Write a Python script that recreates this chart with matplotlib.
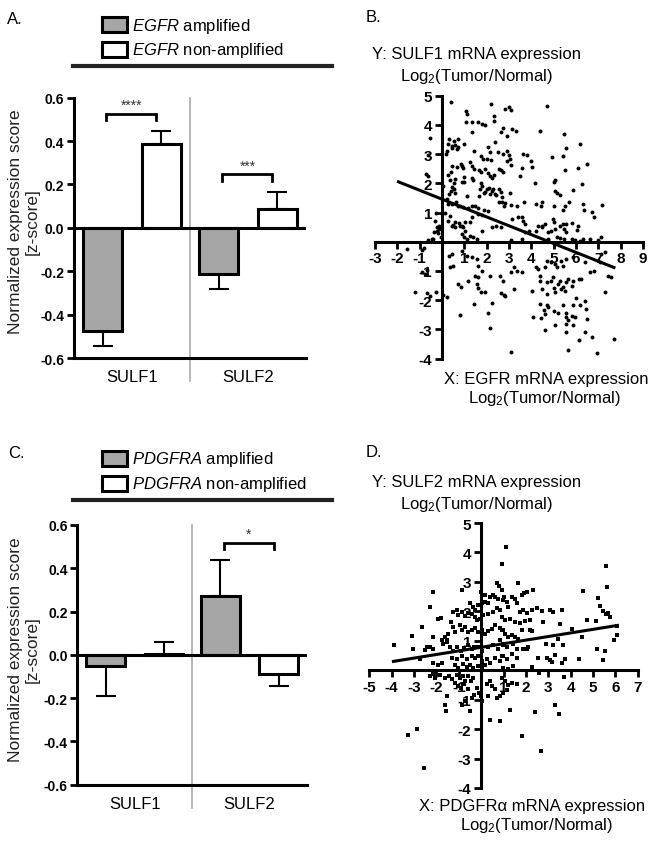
import numpy as np
import matplotlib
matplotlib.use('Agg')
import matplotlib.pyplot as plt
from matplotlib.patches import Rectangle
from matplotlib.lines import Line2D

plt.rcParams['font.family'] = ['Liberation Sans', 'DejaVu Sans']
plt.rcParams['mathtext.fontset'] = 'custom'
plt.rcParams['mathtext.rm'] = 'Liberation Sans'
plt.rcParams['mathtext.it'] = 'Liberation Sans:italic'

# ---------------- data ----------------
genes = ['SULF1', 'SULF2']
egfr_amp = [-0.475, -0.214]
egfr_amp_err = [0.070, 0.066]
egfr_non = [0.386, 0.089]
egfr_non_err = [0.062, 0.077]
egfr_sig = ['****', '***']

pdg_amp = [-0.053, 0.272]
pdg_amp_err = [0.136, 0.165]
pdg_non = [0.006, -0.088]
pdg_non_err = [0.054, 0.054]
pdg_sig = ['', '*']

bar_yticks = [-0.6, -0.4, -0.2, 0.0, 0.2, 0.4, 0.6]
bar_yticklabels = ['-0.6', '-0.4', '-0.2', '0.0', '0.2', '0.4', '0.6']

# Panel B: EGFR (x) vs SULF1 (y), log2 tumor/normal
b_x = [0.40, 1.06, 1.10, 2.19, 2.32, 2.34, 2.82, 1.06, 1.33, 1.62, 1.77, 1.92,
       1.33, 2.74, 2.64, 2.37, -0.54, 0.31, 0.55, 0.73, 0.25, 0.43, 0.58, 0.46,
       0.66, 0.73, 1.00, 1.45, 0.21, 0.16, 2.07, 2.15, 2.52, 2.74, 2.89, -0.64,
       1.74, 1.85, 2.00, 2.19, 0.85, 0.91, 0.95, 0.66, 1.25, 1.33, 1.45, 0.43,
       0.40, 0.25, 0.36, 1.65, 1.74, 1.92, 2.07, 2.15, 2.22, 2.34, 2.55, 2.64,
       2.74, -0.73, -0.61, 0.58, 0.55, 1.00, 0.91, 1.33, 1.40, 1.74, 1.80, 1.70,
       1.65, 1.86, 2.00, 1.92, 2.10, 2.15, 2.22, 2.30, 2.37, 2.44, 2.55, 2.64,
       2.67, 2.70, 2.55, 2.79, 0.06, 0.43, 0.52, 0.58, 0.40, 0.31, 0.97, 1.10,
       0.22, 0.25, 0.46, 0.61, 0.70, 0.82, 0.95, 1.15, 1.33, 1.48, 1.62, 1.89,
       2.07, 1.59, 1.77, 0.13, 0.36, 0.28, 0.58, 0.48, 0.76, 0.91, 1.03, 1.33,
       1.25, -0.25, -0.30, -0.15, -0.20, -0.05, -0.40,
       3.00, 3.09, 4.72, 3.14, 3.31, 2.89, 4.38, 5.47, 5.54, 6.18, 3.64, 3.79,
       3.00, 3.04, 2.89, 3.11, 4.00, 4.04, 3.59, 4.93, 5.42, 5.50, 6.10, 6.48,
       3.49, 4.16, 5.02, 5.05, 6.27, 5.07, 5.17, 5.27, 5.87, 3.04, 3.68, 4.23,
       4.43, 4.48, 2.82, 3.11, 3.38, 5.02, 5.42, 5.50, 5.68, 6.32, 6.36, 6.72,
       6.81, 7.17, 3.14, 3.41, 3.59, 3.63, 3.71, 4.63, 4.98, 5.02, 5.42, 5.57,
       5.83, 4.31, 4.46,
       4.23, 4.46, 4.75, 4.90, 5.05, 5.28, 5.47, 5.57, 6.05, 6.10, 5.13, 5.28,
       5.47, 5.80, 5.95, 6.17, 6.32, 6.62, 6.97, 7.14, 3.56, 3.11, 4.75, 3.71, 3.89,
       3.23, 3.11, 3.34, 3.56, 4.23, 4.31, 4.60, 4.68, 4.88, 5.05, 5.17, 5.35,
       5.42, 5.57, 5.87, 6.39, 6.62, 6.81, 7.07, 7.14, 7.29, 7.44, 7.56, 2.82,
       3.23, 4.04, 4.38, 4.38, 4.46, 4.68, 4.72, 4.90, 4.98, 5.05, 5.02, 5.20,
       5.28, 5.35, 5.42, 5.50, 5.57, 5.65, 5.80, 5.87, 6.12, 6.24, 7.29, 4.38,
       4.68, 4.75, 4.58, 4.60, 5.02, 4.08, 4.43, 5.20, 5.42, 5.57, 5.54, 5.80,
       5.95, 5.87, 6.02, 6.17, 6.39, 6.47, 5.57, 5.62, 5.87, 6.51, 5.08, 4.60,
       5.57, 6.39, 6.12, 6.72, 7.70, 5.62, 6.92, 3.11,
       -0.34, -0.24, -0.24, -0.13, -0.64, -0.46, 0.43, 0.58, 0.80, 0.95, 1.03, 0.91,
       1.00, 1.10, 1.25, 1.40, 1.55, 1.80, 2.22, 2.44, 2.64, -0.91, -0.79, -1.58,
       0.31, 0.43, 0.51, 0.36, 0.91, 1.10, 1.33, 1.55, 1.62, 1.77, -0.91, -0.76,
       -0.69, 1.48, 1.59, 1.18, 2.15, 2.59, 2.74, 0.70, 0.85, 1.55, 1.62, 1.74,
       1.92, 2.64, 2.79, -1.21, -0.69, -0.54, -0.28, 0.06, 0.21, 1.45, 2.25, 2.07,
       0.80, 2.15]
b_y = [4.77, 4.49, 4.37, 4.71, 4.29, 4.14, 4.54, 4.09, 4.09, 4.09, 4.03, 4.00,
       3.77, 3.88, 3.77, 3.40, 3.54, 3.52, 3.46, 3.52, 3.34, 3.29, 3.31, 3.20,
       3.17, 3.26, 3.34, 3.12, 3.12, 3.00, 3.23, 3.06, 3.06, 3.00, 3.12, 2.97,
       2.95, 2.83, 2.83, 2.80, 2.66, 2.58, 2.51, 2.55, 2.74, 2.58, 2.49, 2.58,
       2.40, 2.28, 2.12, 2.47, 2.40, 2.49, 2.35, 2.24, 2.17, 2.28, 2.49, 2.44,
       2.40, 2.32, 2.24, 2.15, 2.01, 2.20, 2.05, 2.17, 2.12, 2.01, 1.92, 1.80,
       1.58, 1.67, 1.80, 1.69, 1.83, 1.63, 1.75, 1.80, 1.63, 1.60, 1.80, 1.71,
       1.52, 1.35, 1.35, 1.21, 1.92, 1.86, 1.80, 1.67, 1.75, 1.63, 2.03, 1.58,
       1.46, 1.29, 1.29, 1.35, 1.23, 1.21, 1.18, 1.14, 1.21, 1.23, 1.14, 1.10,
       1.06, 0.96, 0.91, 1.00, 0.89, 0.72, 0.66, 0.57, 0.64, 0.55, 0.66, 0.83,
       0.66, 1.00, 0.70, 0.45, 0.30, 0.15, 0.10,
       4.63, 4.52, 4.66, 3.86, 3.80, 3.63, 3.78, 3.69, 3.21, 3.34, 3.00, 2.97,
       2.97, 2.83, 2.77, 2.63, 2.77, 2.55, 2.51, 2.89, 2.95, 2.47, 2.52, 2.66,
       2.24, 2.01, 2.05, 2.12, 1.97, 1.75, 1.67, 1.60, 1.78, 1.67, 1.37, 1.29,
       1.21, 1.35, 1.32, 1.26, 1.21, 1.23, 1.10, 1.23, 1.35, 1.29, 1.10, 1.03,
       0.83, 1.26, 0.78, 0.83, 0.83, 0.72, 0.61, 0.61, 0.78, 0.68, 0.61, 0.61,
       0.64, 0.53, 0.49,
       0.38, 0.55, 0.32, 0.35, 0.43, 0.55, 0.43, 0.32, 0.40, 0.55, 0.15, 0.13,
       0.09, 0.09, 0.06, 0.04, 0.09, 0.09, 0.06, 0.15, 0.09, 0.06, 0.09, 0.32, 0.38,
       -0.86, -1.05, -0.99, -1.05, -0.86, -0.94, -0.88, -0.67, -0.70, -0.76, -0.86, -0.65,
       -0.82, -0.59, -0.54, -0.70, -1.05, -0.99, -0.70, -0.42, -0.36, -1.16, -1.22, -1.85,
       -1.62, -1.70, -1.16, -1.36, -1.62, -1.39, -1.79, -1.33, -1.22, -1.73, -1.59, -1.45,
       -1.33, -1.62, -1.56, -1.68, -1.39, -1.28, -1.51, -1.33, -1.28, -1.28, -1.73, -2.13,
       -2.16, -2.23, -2.34, -2.48, -2.38, -2.59, -2.61, -2.45, -2.16, -2.45, -2.59, -2.53,
       -2.59, -2.16, -1.93, -2.16, -2.02, -2.30, -2.82, -2.68, -2.84, -2.65, -2.84, -3.02,
       -3.10, -3.10, -3.37, -3.28, -3.33, -3.71, -3.82, -3.79,
       0.32, 0.38, 0.51, 0.55, 0.06, 0.09, 0.55, 0.51, 0.55, 0.49, 0.38, 0.26,
       0.15, 0.09, 0.21, 0.15, 0.09, 0.38, 0.49, 0.55, 0.51, -0.28, -0.22, -0.25,
       -0.48, -0.42, -0.83, -0.86, -0.31, -0.48, -0.54, -0.59, -0.82, -0.99, -1.05, -1.11,
       -0.97, -1.16, -1.22, -1.33, -1.16, -1.16, -1.36, -1.45, -1.54, -1.45, -1.59, -1.73,
       -1.73, -1.77, -1.82, -1.73, -1.77, -1.85, -1.73, -1.82, -1.88, -2.13, -2.11, -2.45,
       -2.50, -2.96]
b_fit_x = [-1.95, 7.70]
b_slope = -0.304
b_intercept = 1.457

# Panel D: PDGFRA (x) vs SULF2 (y), log2 tumor/normal
d_x = [0.92, 0.70, 0.80, -0.84, -2.14, -2.28, 0.00, 0.17, 0.40, 0.55, 0.62, 0.77,
       0.99, -0.50, -0.35, -0.27, -0.12, 0.03, 0.17, 0.32, -1.24, -1.09, -1.02, -0.87,
       -0.72, -0.57, -0.42, -0.27, -0.20, -0.05, 0.10, 0.32, 0.55, 0.70, 0.85, -1.91,
       -1.79, -2.66, -1.35, -1.24, -1.17, -1.47, -1.61, -1.76, -1.54, -0.94, -0.84, -0.72,
       -0.57, -0.42, -0.27, -0.12, 0.03, 0.17, 0.32, 0.47, 0.62, 0.85, 0.99, -3.88,
       -3.08, -3.03, -2.51, -2.43, -2.28, -2.14, -2.14, -1.69, -1.54, -1.39, -1.24, -1.09,
       -0.90, -0.75, -0.57, -0.42, -0.30, -0.12, 0.03, 0.32, 0.55, 0.77, 0.99, -1.32,
       -1.09, -0.87, -0.65, -0.42, -0.27, -0.12, 0.03, 0.25, 0.40, 0.62, 0.85, 0.99,
       -2.14, -1.91, -1.76, -1.17, -1.02, -0.79, -0.65, -0.50, -0.35, -0.12, 0.03, 0.17,
       -2.73, -2.28, -2.14, -2.06, -1.84, -1.61, -1.44, -1.32, -1.09, -0.94, -0.79, -0.72,
       -0.60, -1.17, -1.05, -0.90, -0.75, -0.57, -0.45, -0.35, -0.20, -0.09, -0.30, -0.42,
       0.00, 0.06, 0.25, 0.40, 0.47, 0.62, 0.70, 0.85, 0.32, -1.54, -1.61, -1.58,
       -0.50, -0.87, -0.72, 0.40, 0.85, -2.88, -3.28, -2.54,
       1.11, 5.58, 5.61, 1.66, 2.04, 1.92, 1.81, 2.33, 4.57, 1.51, 1.37,
       1.59, 5.24, 5.32, 5.43, 5.58, 5.69, 5.76, 0.92, 1.03, 1.14, 1.22, 1.74,
       1.89, 2.04, 2.26, 2.48, 2.71, 3.08, 3.20, 3.60, 0.92, 1.07, 1.29, 1.51,
       1.74, 1.96, 2.19, 2.75, 3.53, 4.72, 5.14, 4.05, 4.49, 6.06, 6.09, 5.94,
       0.92, 1.07, 1.22, 1.37, 1.51, 1.66, 1.81, 2.19, 2.26, 0.84, 0.99, 1.17,
       1.41, 1.59, 1.86, 2.04, 2.11, 2.90, 3.23, 3.45, 3.68, 5.17, 5.54, 0.92,
       1.14, 1.37, 1.59, 2.26, 2.56, 2.93, 3.08, 3.15, 3.30, 3.60, 3.75, 4.39,
       5.46, 0.96, 1.22, 1.44, 2.60, 3.71, 0.92, 1.07, 1.22, 1.37, 1.59, 1.14,
       0.99, 3.30, 3.50, 2.41, 1.29, 1.81, 2.66]
d_y = [3.62, 2.96, 2.87, 2.71, 2.64, 2.15, 2.64, 2.56, 2.50, 2.56, 2.48, 2.41,
       2.38, 2.27, 2.15, 2.04, 2.21, 2.27, 2.33, 2.27, 1.98, 2.04, 1.87, 1.98,
       1.83, 1.95, 1.90, 1.81, 1.70, 1.75, 1.87, 1.90, 1.98, 2.10, 2.04, 1.75,
       1.79, 1.47, 1.64, 1.47, 1.29, 1.24, 1.12, 1.01, 0.95, 1.52, 1.37, 1.47,
       1.29, 1.37, 1.44, 1.29, 1.37, 1.24, 1.33, 1.41, 1.52, 1.44, 1.35, 0.85,
       1.15, 0.72, 0.69, 0.78, 0.80, 0.72, 1.12, 0.89, 1.01, 0.78, 0.66, 0.78,
       0.66, 0.76, 0.84, 0.72, 0.80, 0.78, 0.66, 0.78, 0.84, 0.72, 0.84, 0.43,
       0.38, 0.49, 0.38, 0.49, 0.43, 0.49, 0.32, 0.38, 0.26, 0.43, 0.32, 0.49,
       0.26, 0.18, 0.23, 0.18, 0.09, 0.21, 0.11, 0.18, 0.09, 0.15, 0.09, 0.18,
       0.38, -0.20, -0.12, -0.28, -0.16, -0.25, -0.20, -0.31, -0.16, -0.25, -0.20, -0.37,
       -0.20, -0.43, -0.54, -0.60, -0.48, -0.65, -0.37, -0.25, -0.60, -0.77, -0.83, -0.94,
       -0.88, -1.06, -0.48, -0.37, -0.54, -0.65, -0.94, -0.88, -0.88, -0.88, -1.17, -1.40,
       -1.40, -1.17, -1.06, -1.69, -1.74, -2.00, -2.20, -3.33,
       4.20, 3.55, 2.82, 2.96, 2.67, 2.61, 2.56, 2.73, 2.70, 2.41, 2.48,
       2.27, 2.44, 2.18, 2.02, 1.90, 1.95, 1.81, 2.73, 2.48, 2.33, 2.15, 1.98,
       2.04, 1.93, 2.04, 2.10, 2.01, 2.04, 1.98, 2.04, 1.81, 1.70, 1.75, 1.64,
       1.60, 1.67, 1.70, 1.64, 1.58, 1.70, 1.67, 1.41, 1.12, 1.49, 1.20, 1.03,
       1.35, 1.24, 1.12, 1.18, 1.12, 1.07, 1.35, 1.37, 1.33, 1.01, 0.89, 0.78,
       0.89, 0.72, 0.72, 0.72, 0.78, 0.89, 0.84, 1.07, 0.87, 0.72, 0.66, 0.49,
       0.38, 0.55, 0.43, 0.11, 0.41, 0.43, 0.34, 0.29, 0.53, 0.23, 0.38, 0.38,
       0.34, 0.09, 0.03, 0.15, -0.08, -0.23, -0.25, -0.37, -0.51, -0.43, -0.48, -0.66,
       -0.77, -1.17, -1.49, -1.42, -1.35, -2.23, -2.76]
d_fit_x = [-3.92, 6.09]
d_slope = 0.122
d_intercept = 0.778

GRAY = '#a6a6a6'
FS = 12

# ---------------- figure ----------------
W, H = 654, 853
fig = plt.figure(figsize=(W / 100, H / 100), dpi=100)


def fxp(px):
    return px / W


def fyp(py):
    return 1 - py / H


def axes_px(l, t, r, b):
    return fig.add_axes([fxp(l), fyp(b), fxp(r) - fxp(l), fyp(t) - fyp(b)])


def bar_panel(ax, amp, amp_err, non, non_err, sig, sig_y):
    xc = np.arange(len(genes))
    off, w = 0.254, 0.336
    for vals, errs, color, sgn in [(amp, amp_err, GRAY, -1), (non, non_err, 'white', 1)]:
        xs = xc + sgn * off
        lo = [e if v < 0 else 0 for v, e in zip(vals, errs)]
        hi = [e if v >= 0 else 0 for v, e in zip(vals, errs)]
        ax.errorbar(xs, vals, yerr=[lo, hi], fmt='none', ecolor='black',
                    elinewidth=1.5, capsize=7, capthick=1.5, zorder=2)
        ax.bar(xs, vals, width=w, color=color, edgecolor='black', linewidth=2.2, zorder=3)
    ax.axhline(0, color='black', lw=2.2, zorder=4)
    ax.plot([0.5, 0.5], [0.6, -0.706], color='#aaaaaa', lw=1.2, clip_on=False, zorder=0)
    for i, (s, y) in enumerate(zip(sig, sig_y)):
        if not s:
            continue
        x1, x2 = i - 0.22, i + 0.21
        ax.plot([x1, x1, x2, x2], [y - 0.03, y, y, y - 0.03], color='black', lw=2,
                solid_joinstyle='miter', zorder=5)
        ax.text((x1 + x2) / 2, y + 0.008, s, ha='center', va='bottom', fontsize=10,
                color='#333333')
    ax.set_xlim(-0.5, 1.5)
    ax.set_ylim(-0.6, 0.6)
    for s in ['top', 'right']:
        ax.spines[s].set_visible(False)
    for s in ['left', 'bottom']:
        ax.spines[s].set_linewidth(2.2)
    ax.set_yticks(bar_yticks)
    ax.set_yticklabels(bar_yticklabels, fontweight='bold', fontsize=10)
    ax.tick_params(axis='y', direction='out', length=5, width=2, pad=2)
    ax.set_xticks(xc)
    ax.set_xticklabels(genes, fontsize=FS)
    ax.tick_params(axis='x', length=0, pad=8)


def legend_block(top, gene):
    boxes = [(top, GRAY, 'amplified'), (top + 25, 'white', 'non-amplified')]
    for (t, c, lab) in boxes:
        fig.add_artist(Rectangle((fxp(102), fyp(t + 15)), fxp(25), 15 / H,
                                 facecolor=c, edgecolor='black', lw=2.2,
                                 transform=fig.transFigure))
        fig.text(fxp(132), fyp(t + 8), r'$\mathit{%s}$ %s' % (gene, lab),
                 fontsize=FS, ha='left', va='center')
    fig.add_artist(Line2D([fxp(73), fxp(332)], [fyp(top + 49)] * 2, color='#222222',
                          lw=3, transform=fig.transFigure))


def ylabel_bar(cy):
    fig.text(fxp(24), fyp(cy), 'Normalized expression score\n[z-score]', rotation=90,
             ha='center', va='center', multialignment='center', fontsize=12.5,
             linespacing=1.2, color='#222222')


def scatter_panel(ax, xs, ys, fit_x, slope, intercept, xlim, ylim, marker):
    ax.scatter(xs, ys, s=8, c='black', marker=marker, linewidths=0, zorder=3)
    fxv = np.array(fit_x)
    ax.plot(fxv, slope * fxv + intercept, color='black', lw=2.2, zorder=4)
    ax.set_xlim(xlim)
    ax.set_ylim(ylim)
    ax.patch.set_visible(False)
    for s in ['top', 'right']:
        ax.spines[s].set_visible(False)
    for s in ['left', 'bottom']:
        ax.spines[s].set_position(('data', 0))
        ax.spines[s].set_linewidth(2.2)
    xt = list(range(xlim[0], xlim[1] + 1))
    yt = list(range(ylim[0], ylim[1] + 1))
    ax.set_xticks(xt)
    ax.set_xticklabels(['' if v == 0 else str(v) for v in xt], fontweight='bold', fontsize=11)
    ax.set_yticks(yt)
    ax.set_yticklabels(['' if v == 0 else str(v) for v in yt], fontweight='bold', fontsize=11)
    ax.tick_params(direction='out', length=5, width=2, pad=2)


# Panel A
axA = axes_px(74, 98.7, 306, 359)
bar_panel(axA, egfr_amp, egfr_amp_err, egfr_non, egfr_non_err, egfr_sig, [0.525, 0.248])
legend_block(18, 'EGFR')
ylabel_bar(222)
fig.text(fxp(7), fyp(20), 'A.', fontsize=FS, ha='left', va='center')

# Panel C
axC = axes_px(77.3, 526, 307, 785.7)
bar_panel(axC, pdg_amp, pdg_amp_err, pdg_non, pdg_non_err, pdg_sig, [None, 0.519])
legend_block(451.5, 'PDGFRA')
ylabel_bar(650)
fig.text(fxp(8), fyp(454), 'C.', fontsize=FS, ha='left', va='center')

# Panel B
axB = axes_px(375, 96.7, 643, 359.5)
scatter_panel(axB, b_x, b_y, b_fit_x, b_slope, b_intercept, (-3, 9), (-4, 5), 'o')
fig.text(fxp(366), fyp(17), 'B.', fontsize=FS, ha='left', va='center')
fig.text(fxp(477), fyp(55), 'Y: SULF1 mRNA expression', fontsize=FS, ha='center', va='center')
fig.text(fxp(477), fyp(76), r'Log$_2$(Tumor/Normal)', fontsize=FS, ha='center', va='center')
fig.text(fxp(546), fyp(380), 'X: EGFR mRNA expression', fontsize=FS, ha='center', va='center')
fig.text(fxp(545), fyp(399), r'Log$_2$(Tumor/Normal)', fontsize=FS, ha='center', va='center')

# Panel D
axD = axes_px(369.3, 524, 637.7, 789)
scatter_panel(axD, d_x, d_y, d_fit_x, d_slope, d_intercept, (-5, 7), (-4, 5), 's')
fig.text(fxp(366), fyp(453), 'D.', fontsize=FS, ha='left', va='center')
fig.text(fxp(477), fyp(483), 'Y: SULF2 mRNA expression', fontsize=FS, ha='center', va='center')
fig.text(fxp(477), fyp(505), r'Log$_2$(Tumor/Normal)', fontsize=FS, ha='center', va='center')
fig.text(fxp(532), fyp(807), 'X: PDGFR\u03b1 mRNA expression', fontsize=FS, ha='center', va='center')
fig.text(fxp(537), fyp(826), r'Log$_2$(Tumor/Normal)', fontsize=FS, ha='center', va='center')

fig.savefig('out.png', dpi=100)
